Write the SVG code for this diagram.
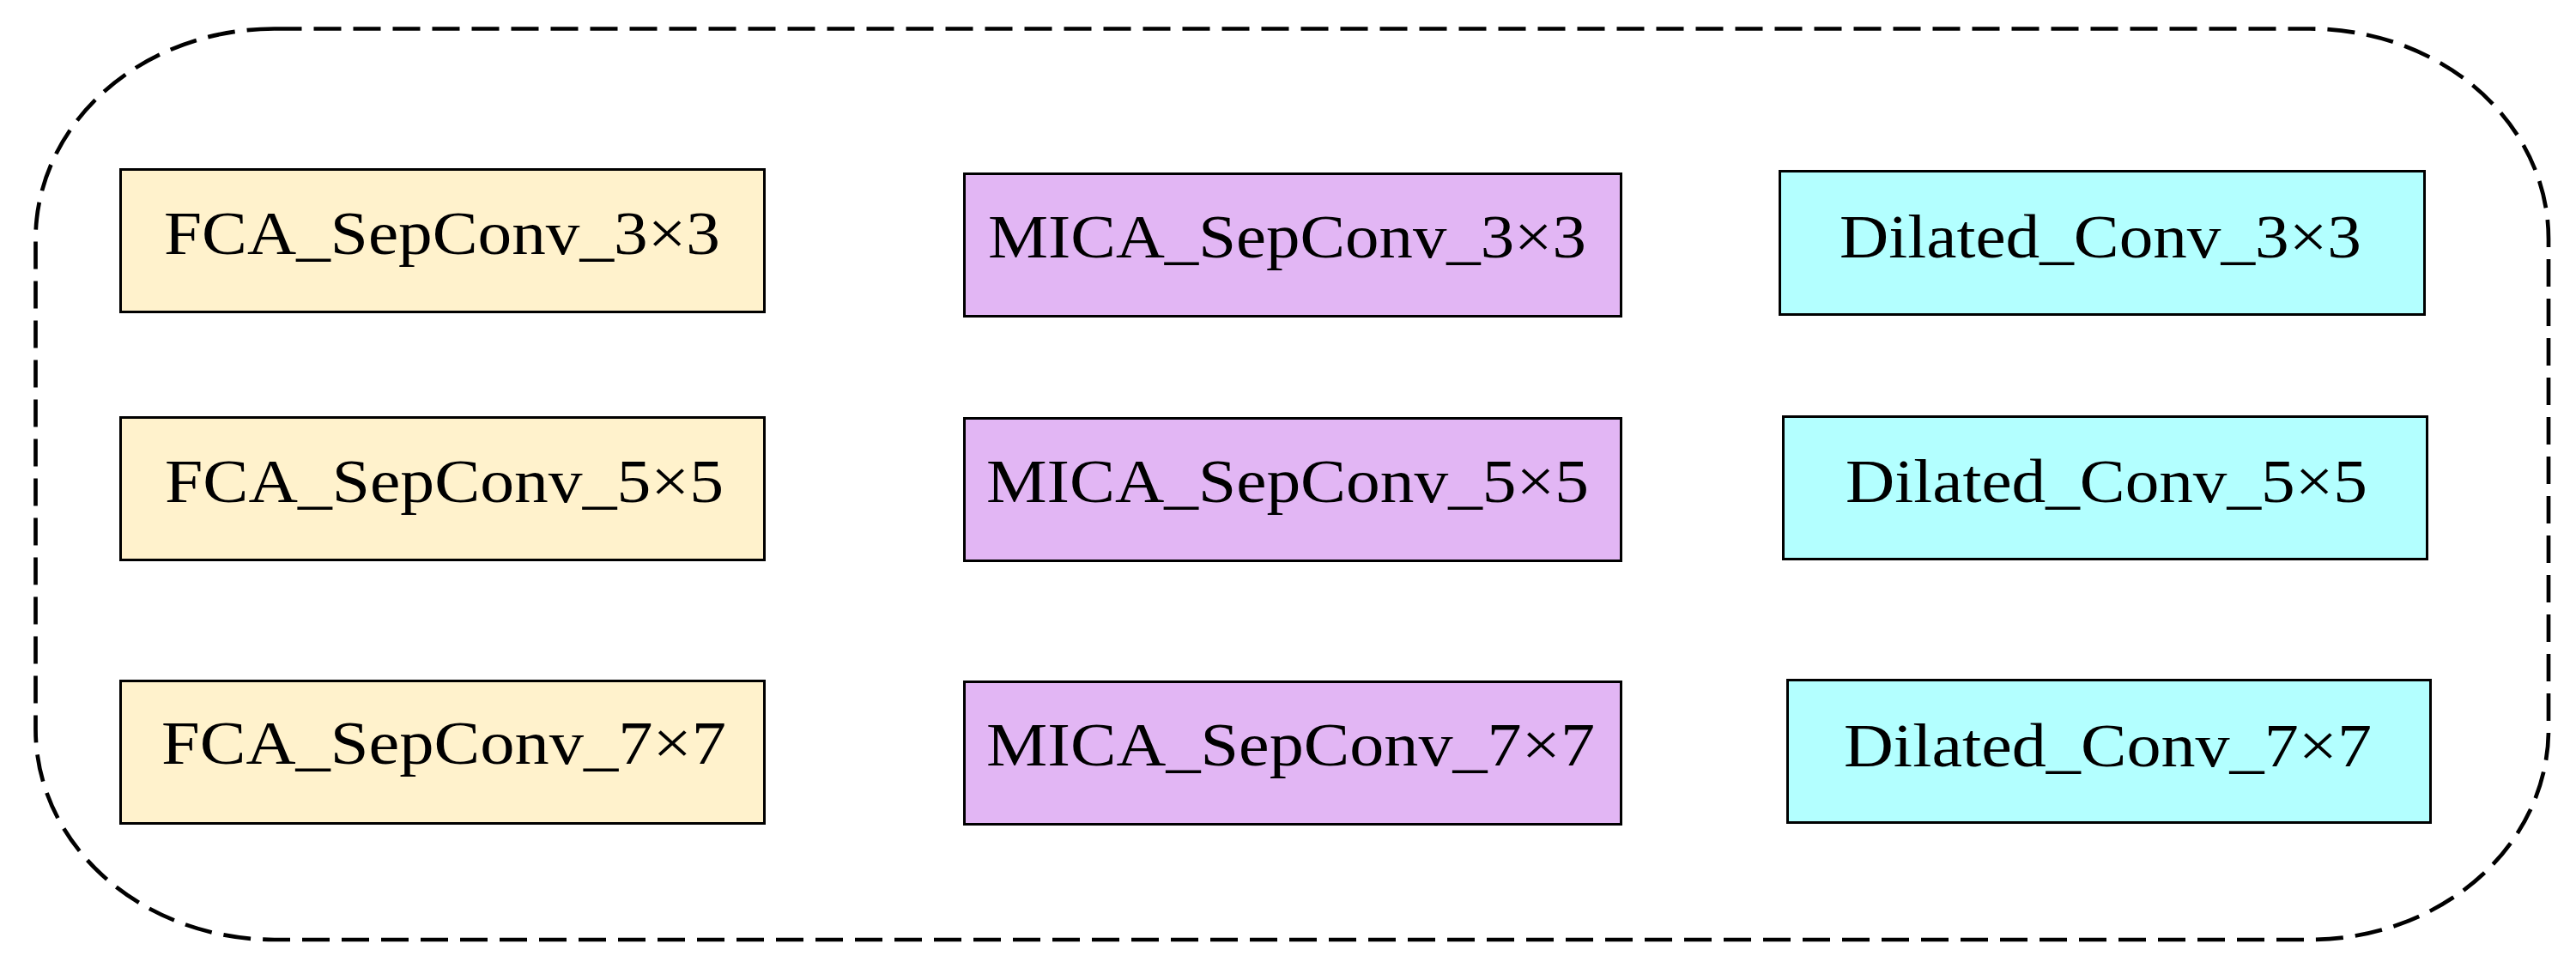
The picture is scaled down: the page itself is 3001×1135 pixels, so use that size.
<svg xmlns="http://www.w3.org/2000/svg" width="3001" height="1135" viewBox="0 0 3001 1135">
<style>
.box{stroke:#000;stroke-width:3}
.fca{fill:#FFF2CC}
.mica{fill:#E2B6F4}
.dil{fill:#B3FFFF}
.lbl{font-family:"Liberation Serif","Times New Roman",serif;font-size:71px;fill:#000}
.border{fill:none;stroke:#000;stroke-width:4.7;stroke-dasharray:32 14}
</style>
<rect width="3001" height="1135" fill="#fff"/>
<g id="container">
<rect class="border" x="41.5" y="33.5" width="2927.5" height="1061.5" rx="278" ry="245"/>
</g>
<g id="fca3"><rect class="box fca" x="140.5" y="197.5" width="750" height="166"/><text class="lbl" x="191" y="296" textLength="648" lengthAdjust="spacingAndGlyphs">FCA_SepConv_3×3</text></g>
<g id="fca5"><rect class="box fca" x="140.5" y="486.5" width="750" height="166"/><text class="lbl" x="192" y="585" textLength="651" lengthAdjust="spacingAndGlyphs">FCA_SepConv_5×5</text></g>
<g id="fca7"><rect class="box fca" x="140.5" y="793.5" width="750" height="166"/><text class="lbl" x="188" y="890" textLength="658" lengthAdjust="spacingAndGlyphs">FCA_SepConv_7×7</text></g>
<g id="mica3"><rect class="box mica" x="1123.5" y="202.5" width="765" height="166"/><text class="lbl" x="1151" y="300" textLength="697" lengthAdjust="spacingAndGlyphs">MICA_SepConv_3×3</text></g>
<g id="mica5"><rect class="box mica" x="1123.5" y="487.5" width="765" height="166"/><text class="lbl" x="1149" y="585" textLength="702" lengthAdjust="spacingAndGlyphs">MICA_SepConv_5×5</text></g>
<g id="mica7"><rect class="box mica" x="1123.5" y="794.5" width="765" height="166"/><text class="lbl" x="1149" y="892" textLength="709" lengthAdjust="spacingAndGlyphs">MICA_SepConv_7×7</text></g>
<g id="dil3"><rect class="box dil" x="2073.5" y="199.5" width="751" height="167"/><text class="lbl" x="2143" y="300" textLength="608" lengthAdjust="spacingAndGlyphs">Dilated_Conv_3×3</text></g>
<g id="dil5"><rect class="box dil" x="2077.5" y="485.5" width="750" height="166"/><text class="lbl" x="2150" y="585" textLength="608" lengthAdjust="spacingAndGlyphs">Dilated_Conv_5×5</text></g>
<g id="dil7"><rect class="box dil" x="2082.5" y="792.5" width="749" height="166"/><text class="lbl" x="2148" y="893" textLength="615" lengthAdjust="spacingAndGlyphs">Dilated_Conv_7×7</text></g>
<g id="connectors"></g>
</svg>
